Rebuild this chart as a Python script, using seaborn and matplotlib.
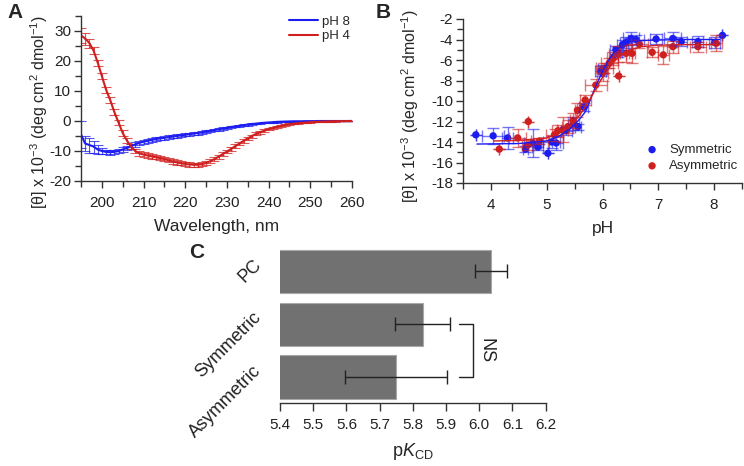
import numpy as np
import pandas as pd
import matplotlib
matplotlib.use("Agg")
import matplotlib.pyplot as plt
import matplotlib.transforms as mtransforms
import seaborn as sns

# ---- Panel A: CD spectra ----
wavelength = np.arange(195, 261)
ph8_val = [-4.5, -7.5, -8.0, -8.5, -9.5, -10.0, -10.3, -10.4, -10.3, -10.0,
           -9.5, -9.0, -8.4, -7.8, -7.3, -6.9, -6.6, -6.3, -6.0, -5.8,
           -5.6, -5.4, -5.2, -5.0, -4.8, -4.6, -4.4, -4.2, -4.0, -3.8,
           -3.5, -3.3, -3.0, -2.8, -2.5, -2.3, -2.0, -1.8, -1.6, -1.4,
           -1.2, -1.0, -0.9, -0.7, -0.6, -0.5, -0.4, -0.3, -0.25, -0.2,
           -0.15, -0.1, -0.1, -0.1, -0.05, -0.05, -0.05, 0.0, 0.0, 0.0,
           0.0, 0.0, 0.0, 0.0, 0.0, 0.0]
ph8_err = [4.5, 2.5, 2.5, 2.0, 1.5, 1.0, 0.8, 0.8, 0.8, 0.8,
           0.8, 0.8, 0.8, 0.7, 0.7, 0.7, 0.7, 0.7, 0.6, 0.6,
           0.6, 0.6, 0.6, 0.6, 0.5, 0.5, 0.5, 0.5, 0.5, 0.5,
           0.5, 0.4, 0.4, 0.4, 0.4, 0.4, 0.3, 0.3, 0.3, 0.3,
           0.3, 0.3, 0.2, 0.2, 0.2, 0.2, 0.2, 0.2, 0.1, 0.1,
           0.1, 0.1, 0.1, 0.1, 0.1, 0.1, 0.1, 0.1, 0.1, 0.1,
           0.1, 0.1, 0.1, 0.1, 0.1, 0.1]
ph4_val = [28.5, 27.5, 26.0, 23.5, 19.5, 15.0, 10.5, 7.0, 3.0, -0.5,
           -4.0, -6.5, -8.5, -10.0, -10.8, -11.2, -11.5, -11.8, -12.1, -12.4,
           -12.7, -13.1, -13.5, -13.8, -14.1, -14.3, -14.5, -14.6, -14.6, -14.4,
           -14.0, -13.4, -12.7, -11.9, -11.0, -10.2, -9.3, -8.4, -7.5, -6.6,
           -5.8, -5.0, -4.3, -3.7, -3.2, -2.7, -2.3, -1.9, -1.6, -1.3,
           -1.1, -0.9, -0.7, -0.6, -0.5, -0.4, -0.3, -0.25, -0.2, -0.15,
           -0.1, -0.1, -0.05, -0.05, 0.0, 0.0]
ph4_err = [2.5, 2.0, 1.5, 1.2, 1.0, 1.0, 1.0, 1.0, 0.9, 0.9,
           0.9, 0.9, 0.8, 0.8, 0.8, 0.8, 0.7, 0.7, 0.7, 0.7,
           0.7, 0.7, 0.7, 0.7, 0.7, 0.7, 0.7, 0.7, 0.7, 0.7,
           0.7, 0.7, 0.7, 0.7, 0.7, 0.6, 0.6, 0.6, 0.6, 0.6,
           0.5, 0.5, 0.5, 0.5, 0.4, 0.4, 0.4, 0.3, 0.3, 0.3,
           0.3, 0.2, 0.2, 0.2, 0.2, 0.2, 0.1, 0.1, 0.1, 0.1,
           0.1, 0.1, 0.1, 0.1, 0.1, 0.1]

# ---- Panel B: pH titration ----
sym_ph = [3.73, 4.04, 4.30, 4.62, 4.75, 4.84, 5.02, 5.09, 5.17, 5.35, 5.48, 5.56, 5.66,
          5.97, 6.00, 6.24, 6.27, 6.36, 6.42, 6.51, 6.60, 6.96, 7.26, 7.41, 7.71, 8.01, 8.15]
sym_val = [-13.3, -13.4, -13.6, -14.7, -14.1, -14.5, -15.1, -14.0, -14.1, -12.9, -12.2, -12.5, -10.6,
           -7.1, -6.9, -5.0, -5.2, -4.5, -4.3, -3.9, -4.0, -3.95, -3.9, -4.2, -4.2, -4.3, -3.6]
sym_xerr = [0, 0.2, 0.1, 0.05, 0.15, 0.1, 0, 0.15, 0.12, 0.1, 0.1, 0.05, 0.08,
            0.1, 0.08, 0.1, 0.08, 0.1, 0.1, 0.15, 0.15, 0.1, 0.15, 0.1, 0.1, 0.1, 0]
sym_yerr = [0, 0.8, 1.1, 0.3, 1.4, 0.3, 0, 0.6, 0.7, 0.4, 0.6, 0.3, 0.4,
            0.5, 0.4, 0.4, 0.5, 0.5, 0.5, 0.6, 0.4, 0.5, 0.6, 0.4, 0.5, 0.5, 0]
asym_ph = [4.15, 4.48, 4.66, 4.67, 4.87, 5.14, 5.20, 5.29, 5.38, 5.47, 5.55, 5.69, 5.88, 6.00,
           6.03, 6.12, 6.18, 6.27, 6.29, 6.42, 6.53, 6.66, 6.89, 7.09, 7.26, 7.71, 8.04]
asym_val = [-14.7, -13.6, -14.3, -12.0, -13.9, -13.3, -12.9, -12.8, -12.5, -11.9, -10.9, -9.9, -8.45, -7.3,
            -6.8, -6.3, -5.85, -5.4, -7.56, -5.35, -5.35, -4.45, -5.25, -5.5, -4.7, -4.7, -4.37]
asym_xerr = [0, 0.15, 0.1, 0, 0.15, 0.15, 0.1, 0.1, 0.1, 0.05, 0.05, 0.1, 0.2, 0.1,
             0.15, 0.15, 0.1, 0.15, 0, 0.1, 0.05, 0.15, 0.1, 0.1, 0.1, 0.15, 0.1]
asym_yerr = [0, 0.9, 0.5, 0, 0.3, 0.6, 0.6, 1.2, 0.6, 0.7, 0.7, 0.5, 0.6, 0.7,
             0.5, 0.5, 0.6, 0.8, 0, 0.8, 0.9, 0.4, 0.5, 0.9, 0.6, 0.5, 0.8]
sym_fit_ph = [3.75, 4.5, 5.0, 5.2, 5.4, 5.5, 5.6, 5.7, 5.8, 5.9, 6.0, 6.1, 6.2, 6.3, 6.4, 6.5, 6.7, 7.0, 7.5, 8.1]
sym_fit_val = [-14.2, -14.15, -13.9, -13.5, -12.8, -12.3, -11.7, -11.0, -9.6, -8.3, -7.1, -6.1, -5.3,
               -4.8, -4.45, -4.25, -4.1, -4.05, -4.0, -4.0]
asym_fit_ph = [4.05, 4.5, 5.0, 5.2, 5.4, 5.5, 5.6, 5.7, 5.8, 5.9, 6.0, 6.1, 6.2, 6.3, 6.4, 6.5, 6.7, 7.0, 7.5, 8.1]
asym_fit_val = [-13.9, -13.85, -13.6, -13.2, -12.5, -12.0, -11.3, -10.5, -9.6, -8.6, -7.7, -6.9, -6.2,
                -5.7, -5.3, -5.0, -4.7, -4.55, -4.5, -4.5]

# ---- Panel C: pK_CD ----
bar_labels = ["PC", "Symmetric", "Asymmetric"]
pk_values = [6.035, 5.83, 5.75]
pk_errors = [0.047, 0.083, 0.153]

BLUE = "#1c1cf0"
RED = "#d01f1f"
INK = "#222222"

sns.set_theme(style="ticks")
plt.rcParams["font.family"] = ["Liberation Sans", "DejaVu Sans"]
plt.rcParams["mathtext.fontset"] = "custom"
plt.rcParams["mathtext.rm"] = "Liberation Sans"
plt.rcParams["mathtext.it"] = "Liberation Sans:italic"
plt.rcParams["axes.unicode_minus"] = False
plt.rcParams["axes.linewidth"] = 1.0
plt.rcParams["axes.edgecolor"] = "#333333"

fig = plt.figure(figsize=(7.44, 4.66), dpi=100)
W, H = 744, 466


def px_axes(left, top, right, bottom):
    return fig.add_axes([left / W, 1 - bottom / H, (right - left) / W, (bottom - top) / H])


def style_axis(ax):
    for s in ["top", "right"]:
        ax.spines[s].set_visible(False)
    ax.tick_params(which="both", direction="out", width=1, colors="#333333",
                   labelsize=11, labelcolor=INK)
    ax.tick_params(which="major", length=5)
    ax.tick_params(which="minor", length=4)
    ax.tick_params(axis="x", pad=6)
    ax.tick_params(axis="y", pad=2)


ylab = "[θ] x 10$^{-3}$ (deg cm$^{2}$ dmol$^{-1}$)"

# Panel A
axA = px_axes(81, 16, 352, 181)
style_axis(axA)
axA.errorbar(wavelength, ph8_val, yerr=ph8_err, fmt="none", ecolor=BLUE, elinewidth=0.8,
             capsize=3.6, capthick=0.8, alpha=0.75)
axA.errorbar(wavelength, ph4_val, yerr=ph4_err, fmt="none", ecolor=RED, elinewidth=0.8,
             capsize=3.6, capthick=0.8, alpha=0.75)
dfA = pd.DataFrame({"wl": np.concatenate([wavelength, wavelength]),
                    "val": ph8_val + ph4_val,
                    "cond": ["pH 8"] * len(wavelength) + ["pH 4"] * len(wavelength)})
sns.lineplot(data=dfA, x="wl", y="val", hue="cond", palette={"pH 8": BLUE, "pH 4": RED},
             linewidth=1.5, ax=axA)
axA.set_xlim(195, 260)
axA.set_ylim(-20, 35)
axA.set_xticks(np.arange(200, 261, 10))
axA.set_xticks(np.arange(195, 261, 5), minor=True)
axA.set_yticks(np.arange(-20, 31, 10))
axA.set_yticks(np.arange(-20, 36, 5), minor=True)
axA.set_xlabel("Wavelength, nm", fontsize=12.5, labelpad=6)
axA.set_ylabel(ylab, fontsize=11.5)
axA.yaxis.set_label_coords(-0.115, 0.42)
axA.legend(frameon=False, fontsize=9.5, loc="upper left", handlelength=2.2,
           bbox_to_anchor=(0.7675, 1.004), borderaxespad=0, borderpad=0,
           labelspacing=0.2, handletextpad=0.3)

# Panel B
axB = px_axes(463, 19, 742, 183)
style_axis(axB)
axB.errorbar(sym_ph, sym_val, xerr=sym_xerr, yerr=sym_yerr, fmt="none", ecolor=BLUE,
             elinewidth=1.0, capsize=4, capthick=1.0, alpha=0.6)
axB.errorbar(asym_ph, asym_val, xerr=asym_xerr, yerr=asym_yerr, fmt="none", ecolor=RED,
             elinewidth=1.0, capsize=4, capthick=1.0, alpha=0.6)
sns.lineplot(x=sym_fit_ph, y=sym_fit_val, color=BLUE, linewidth=1.0, ax=axB)
sns.lineplot(x=asym_fit_ph, y=asym_fit_val, color=RED, linewidth=1.0, ax=axB)
sns.scatterplot(x=sym_ph, y=sym_val, color=BLUE, s=28, edgecolor="none", ax=axB, label="Symmetric")
sns.scatterplot(x=asym_ph, y=asym_val, color=RED, s=28, edgecolor="none", ax=axB, label="Asymmetric")
axB.set_xlim(3.5, 8.5)
axB.set_ylim(-18, -2)
axB.set_xticks(np.arange(4, 9, 1))
axB.set_xticks(np.arange(3.5, 8.6, 0.5), minor=True)
axB.set_yticks(np.arange(-18, -1, 2))
axB.set_yticks(np.arange(-18, -1, 1), minor=True)
axB.set_xlabel("pH", fontsize=12.5, labelpad=6)
axB.set_ylabel(ylab, fontsize=11.5)
axB.yaxis.set_label_coords(-0.152, 0.47)
axB.legend(frameon=False, fontsize=9.5, loc="center left", bbox_to_anchor=(0.654, 0.152),
           borderaxespad=0, borderpad=0, handlelength=1.0, handletextpad=0.8,
           labelspacing=0.3)

# Panel C
axC = px_axes(280, 245, 545.7, 403)
sns.barplot(x=pk_values, y=bar_labels, orient="h", color="#717171", width=0.82,
            edgecolor="#a8a8a8", linewidth=0.8, saturation=1, ax=axC)
axC.errorbar(pk_values, np.arange(len(bar_labels)), xerr=pk_errors, fmt="none",
             ecolor=INK, elinewidth=1.0, capsize=5, capthick=1.0)
axC.set_xlim(5.4, 6.2)
axC.set_ylim(2.49, -0.5)
axC.set_xticks(np.arange(5.4, 6.21, 0.1))
axC.set_xticklabels([f"{v:.1f}" for v in np.arange(5.4, 6.21, 0.1)])
for s in ["top", "right", "left"]:
    axC.spines[s].set_visible(False)
axC.tick_params(axis="x", direction="out", length=6, width=1, colors="#333333",
                labelsize=11, labelcolor=INK, pad=5)
axC.tick_params(axis="y", length=0, labelsize=13, labelcolor=INK, pad=4)
shift = mtransforms.ScaledTranslation(-0.16, 0.09, fig.dpi_scale_trans)
for lab in axC.get_yticklabels():
    lab.set_rotation(45)
    lab.set_rotation_mode("anchor")
    lab.set_ha("right")
    lab.set_va("center")
    lab.set_transform(lab.get_transform() + shift)
axC.set_ylabel("")
axC.set_xlabel(r"p$\mathit{K}_{\mathrm{CD}}$", fontsize=13, labelpad=6)

# NS bracket
axC.plot([5.94, 5.98, 5.98, 5.94], [1.0, 1.0, 2.0, 2.0], color=INK, lw=1.0, clip_on=False)
axC.text(6.02, 1.5, "NS", rotation=-90, ha="center", va="center", fontsize=13, color=INK)

# panel letters
fig.text(7 / W, 1 - 13 / H, "A", fontsize=15, fontweight="bold", va="center", ha="left")
fig.text(376 / W, 1 - 13 / H, "B", fontsize=15, fontweight="bold", va="center", ha="left")
fig.text(189 / W, 1 - 253 / H, "C", fontsize=15, fontweight="bold", va="center", ha="left")

fig.savefig("out.png", dpi=100)
